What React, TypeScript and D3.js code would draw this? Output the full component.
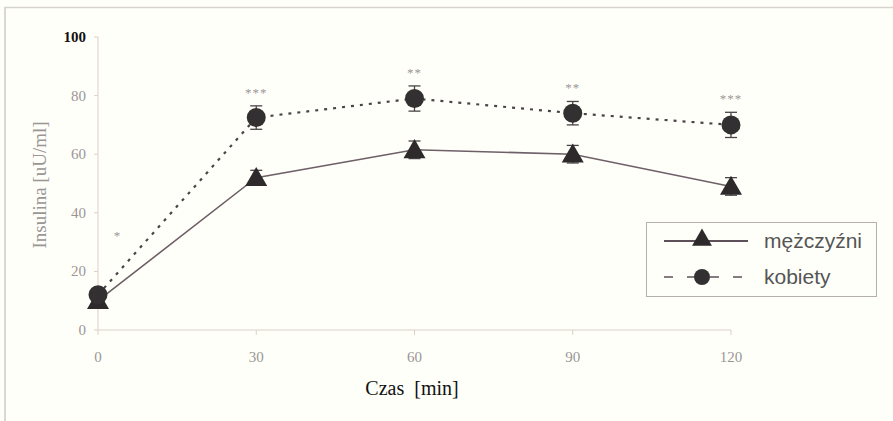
import React from "react";
import * as d3 from "d3";

const times = [0, 30, 60, 90, 120];
const menMean = [10, 52, 61.5, 60, 49];
const menErr = [1.5, 2.5, 3, 3, 3];
const womenMean = [12, 72.5, 79, 74, 70];
const womenErr = [2, 4, 4.3, 4, 4.3];
const womenStars = ["", "***", "**", "**", "***"];
const yTicks = [0, 20, 40, 60, 80, 100];
const seriesNames = ["mężczyźni", "kobiety"];

const W = 893;
const H = 421;

export default function App() {
  const x = d3.scaleLinear().domain([0, 120]).range([98, 731]);
  const y = d3.scaleLinear().domain([0, 100]).range([330, 37]);
  const line = d3
    .line<number>()
    .x((_, i) => x(times[i]))
    .y((d) => y(d));

  const tri = d3.symbol().type(d3.symbolTriangle).size(210)();
  const triSmall = d3.symbol().type(d3.symbolTriangle).size(170)();
  const serif = "'Liberation Serif', 'Times New Roman', serif";
  const sans = "'Liberation Sans', Arial, sans-serif";
  const axisCol = "#dccfc8";
  const tickCol = "#9a9696";

  const errBar = (cx: number, m: number, e: number, key: string, col: string) => (
    <g key={key} stroke={col} strokeWidth={1.3}>
      <line x1={cx} x2={cx} y1={y(m + e)} y2={y(m - e)} />
      <line x1={cx - 6} x2={cx + 6} y1={y(m + e)} y2={y(m + e)} />
      <line x1={cx - 6} x2={cx + 6} y1={y(m - e)} y2={y(m - e)} />
    </g>
  );

  return (
    <svg
      width={W}
      height={H}
      style={{ position: "absolute", left: 0, top: 0, background: "#fffff9" }}
    >
      {/* frame */}
      <line x1={5} x2={W} y1={7.5} y2={7.5} stroke="#d6d2cc" strokeWidth={1.5} />
      <line x1={5} x2={5} y1={7} y2={H} stroke="#cfcac6" strokeWidth={1.5} />

      {/* axes */}
      <line x1={x(0)} x2={x(0)} y1={y(100)} y2={y(0)} stroke={axisCol} />
      <line x1={x(0)} x2={x(120)} y1={y(0)} y2={y(0)} stroke={axisCol} />
      {yTicks.map((t) => (
        <g key={"y" + t}>
          <line x1={x(0) - 4} x2={x(0)} y1={y(t)} y2={y(t)} stroke={axisCol} />
          <text
            x={x(0) - 12}
            y={y(t) + 5}
            textAnchor="end"
            fontFamily={serif}
            fontSize={15}
            fill={t === 100 ? "#111" : tickCol}
            fontWeight={t === 100 ? "bold" : "normal"}
          >
            {t}
          </text>
        </g>
      ))}
      {times.map((t) => (
        <g key={"x" + t}>
          <line x1={x(t)} x2={x(t)} y1={y(0)} y2={y(0) + 5} stroke={axisCol} />
          <text
            x={x(t)}
            y={y(0) + 32}
            textAnchor="middle"
            fontFamily={serif}
            fontSize={15}
            fill={tickCol}
          >
            {t}
          </text>
        </g>
      ))}
      <text
        transform={`translate(46,185) rotate(-90)`}
        textAnchor="middle"
        fontFamily={serif}
        fontSize={19}
        fill="#9a9696"
      >
        Insulina [uU/ml]
      </text>
      <text
        x={412}
        y={395}
        textAnchor="middle"
        fontFamily={serif}
        fontSize={20}
        fill="#111"
        style={{ whiteSpace: "pre" }}
      >
        {"Czas  [min]"}
      </text>

      {/* women: dotted line */}
      <path
        d={line(womenMean) || ""}
        fill="none"
        stroke="#4a4448"
        strokeWidth={2.2}
        strokeDasharray="3 6"
      />
      {/* men: solid line */}
      <path d={line(menMean) || ""} fill="none" stroke="#6e6068" strokeWidth={1.6} />

      {menMean.map((m, i) => errBar(x(times[i]), m, menErr[i], "me" + i, "#4a4448"))}
      {menMean.map((m, i) => (
        <path
          key={"mt" + i}
          d={tri || ""}
          transform={`translate(${x(times[i])},${y(m) + 2})`}
          fill="#2e2a2c"
        />
      ))}
      {womenMean.map((m, i) => errBar(x(times[i]), m, womenErr[i], "we" + i, "#4a4448"))}
      {womenMean.map((m, i) => (
        <circle key={"wc" + i} cx={x(times[i])} cy={y(m)} r={9.5} fill="#333031" />
      ))}
      {womenStars.map((s, i) =>
        s ? (
          <text
            key={"s" + i}
            x={x(times[i])}
            y={y(womenMean[i] + womenErr[i]) - 9}
            textAnchor="middle"
            fontFamily={serif}
            fontSize={13}
            letterSpacing={1}
            fill="#9a9696"
          >
            {s}
          </text>
        ) : null
      )}
      <text x={117} y={240} textAnchor="middle" fontFamily={serif} fontSize={13} fill="#9a9696">
        *
      </text>

      {/* legend */}
      <rect x={646.5} y={222.5} width={230} height={74} fill="#fffff9" stroke="#b5b0ae" />
      <line x1={664} x2={748} y1={241} y2={241} stroke="#5e5058" strokeWidth={2} />
      <path d={triSmall || ""} transform="translate(702,240)" fill="#2e2a2c" />
      <text x={764} y={248} fontFamily={sans} fontSize={21} fill="#555">
        {seriesNames[0]}
      </text>
      <line
        x1={664}
        x2={743}
        y1={277}
        y2={277}
        stroke="#5e5058"
        strokeWidth={1.5}
        strokeDasharray="9 14"
      />
      <circle cx={702} cy={277} r={8} fill="#333031" />
      <text x={764} y={284} fontFamily={sans} fontSize={21} fill="#555">
        {seriesNames[1]}
      </text>
    </svg>
  );
}
